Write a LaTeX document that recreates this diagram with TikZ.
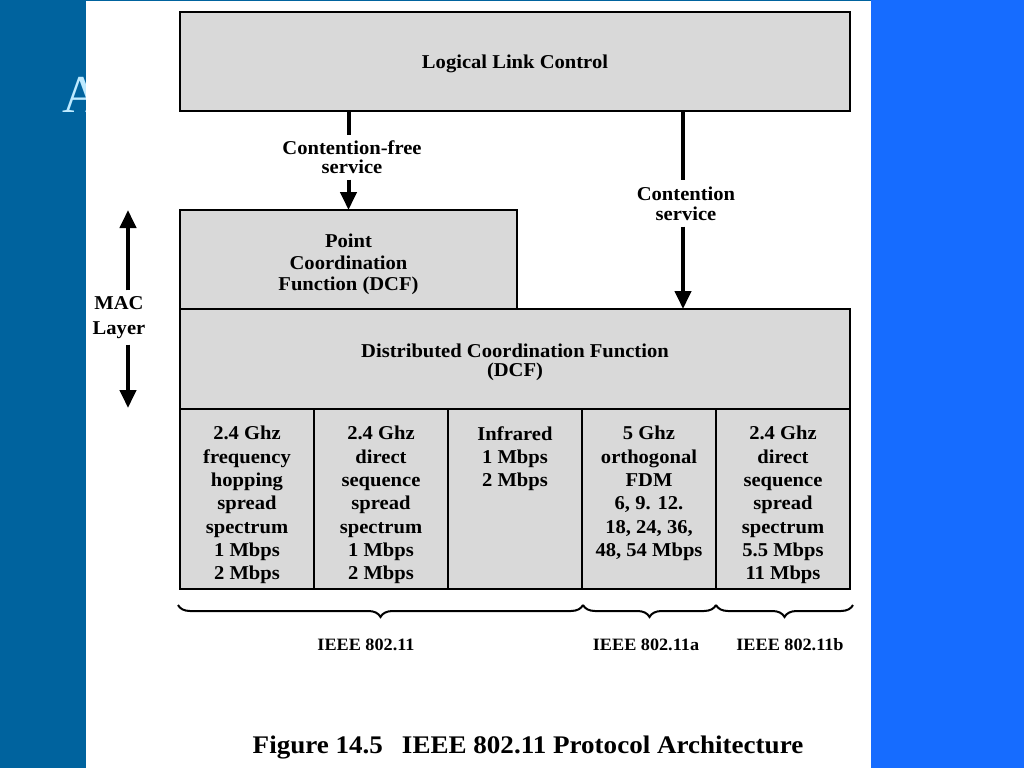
\documentclass[tikz,border=0pt]{standalone}
\usepackage{fontspec}
\usetikzlibrary{arrows.meta,decorations.pathreplacing}
\newfontfamily\figfont{Liberation Serif}[FakeStretch=1.05]
\newfontfamily\capfont{Liberation Serif}[FakeStretch=1.068]
\newfontfamily\slidefont{Liberation Serif}
\definecolor{bandleft}{RGB}{0,99,158}
\definecolor{bandright}{RGB}{22,108,255}
\definecolor{boxgray}{RGB}{217,217,217}
\definecolor{titlecyan}{RGB}{190,234,255}
\begin{document}
\begin{tikzpicture}[x=0.75pt,y=-0.75pt,
  box/.style={draw=black, line width=2.1pt, fill=boxgray, inner sep=0pt, outer sep=0pt},
  txt/.style={align=center, inner sep=0pt, text=black},
  ln/.style={line width=3pt},
  arr/.style={line width=3pt, -{Triangle[length=13.5pt,width=12pt]}},
  brc/.style={decorate, decoration={brace, mirror, amplitude=9pt}, line width=1.5pt}
]
\useasboundingbox (0,0) rectangle (1024,768);
% background
\fill[bandleft] (0,0) rectangle (871,768);
\fill[bandright] (871,0) rectangle (1024,768);
\node[anchor=base west, inner sep=0pt, text=titlecyan, font=\slidefont\fontsize{40pt}{48pt}\selectfont] (slideA) at (62,112) {A};
\fill[white] (86,1.3) rectangle (871,768);

% boxes
\node[box, minimum width=670*0.75pt, minimum height=99*0.75pt] (llc) at (515,61.5) {};
\node[box, minimum width=337*0.75pt, minimum height=99*0.75pt] (pcf) at (348.5,259.5) {};
\node[box, minimum width=670*0.75pt, minimum height=100*0.75pt] (dcf) at (515,359) {};
\foreach \n/\cx in {c1/247,c2/381,c3/515,c4/649,c5/783}{
  \node[box, minimum width=134*0.75pt, minimum height=180*0.75pt] (\n) at (\cx,499) {};
}

\tikzset{bf/.style={font=\figfont\bfseries\fontsize{14.7pt}{#1}\selectfont}}
\node[txt, bf=17pt] (llct) at (515,63.6) {Logical Link Control};
\node[txt, bf=16.1pt] (pcft) at (348.5,264.5) {Point\\Coordination\\Function (DCF)};
\node[txt, bf=14.25pt] (dcft) at (515,362) {Distributed Coordination Function\\(DCF)};

\tikzset{coltxt/.style={txt, anchor=north, bf=17.5pt}}
\node[coltxt] (t1) at ([yshift=-12.75pt]c1.north) {2.4 Ghz\\frequency\\hopping\\spread\\spectrum\\1 Mbps\\2 Mbps};
\node[coltxt] (t2) at ([yshift=-12.75pt]c2.north) {2.4 Ghz\\direct\\sequence\\spread\\spectrum\\1 Mbps\\2 Mbps};
\node[coltxt] (t3) at ([yshift=-12.75pt]c3.north) {Infrared\\1 Mbps\\2 Mbps};
\node[coltxt] (t4) at ([yshift=-12.75pt]c4.north) {5 Ghz\\orthogonal\\FDM\\6, 9. 12.\\18, 24, 36,\\48, 54 Mbps};
\node[coltxt] (t5) at ([yshift=-12.75pt]c5.north) {2.4 Ghz\\direct\\sequence\\spread\\spectrum\\5.5 Mbps\\11 Mbps};

% service labels and arrows
\node[txt, inner ysep=4pt, bf=14.25pt] (cfs) at (352,157.5) {Contention-free\\service};
\draw[ln] (llc.south -| pcf.north) -- (pcf.north |- cfs.north);
\draw[arr] (pcf.north |- cfs.south) -- (pcf.north);

\coordinate (cin) at (683,309);
\node[txt, inner ysep=4.5pt, bf=15pt] (cs) at (686,203.5) {Contention\\service};
\draw[ln] (llc.south -| cin) -- (cin |- cs.north);
\draw[arr] (cin |- cs.south) -- (cin);

% MAC layer
\coordinate (mtop) at (128,210);
\coordinate (mbot) at (128,408);
\node[txt, inner ysep=4.3pt, bf=18.75pt] (mac) at (119,317.5) {MAC\\Layer};
\draw[arr] (mtop |- mac.north) -- (mtop);
\draw[arr] (mbot |- mac.south) -- (mbot);

% braces
\coordinate (b1s) at (178,605);
\coordinate (b1e) at (583,605);
\coordinate (b2e) at (716,605);
\coordinate (b3e) at (853,605);
\draw[brc] (b1s) -- (b1e);
\draw[brc] (b1e) -- (b2e);
\draw[brc] (b2e) -- (b3e);
\tikzset{ieee/.style={txt, font=\figfont\bfseries\fontsize{13pt}{15pt}\selectfont}}
\node[ieee] (l1) at (366,645) {IEEE 802.11};
\node[ieee] (l2) at (646,645) {IEEE 802.11a};
\node[ieee] (l3) at (790,645) {IEEE 802.11b};

% caption
\node[txt, font=\capfont\bfseries\fontsize{19pt}{22pt}\selectfont] (cap) at (528,747.5) {Figure 14.5\hspace{0.75em}IEEE 802.11 Protocol Architecture};
\end{tikzpicture}
\end{document}
